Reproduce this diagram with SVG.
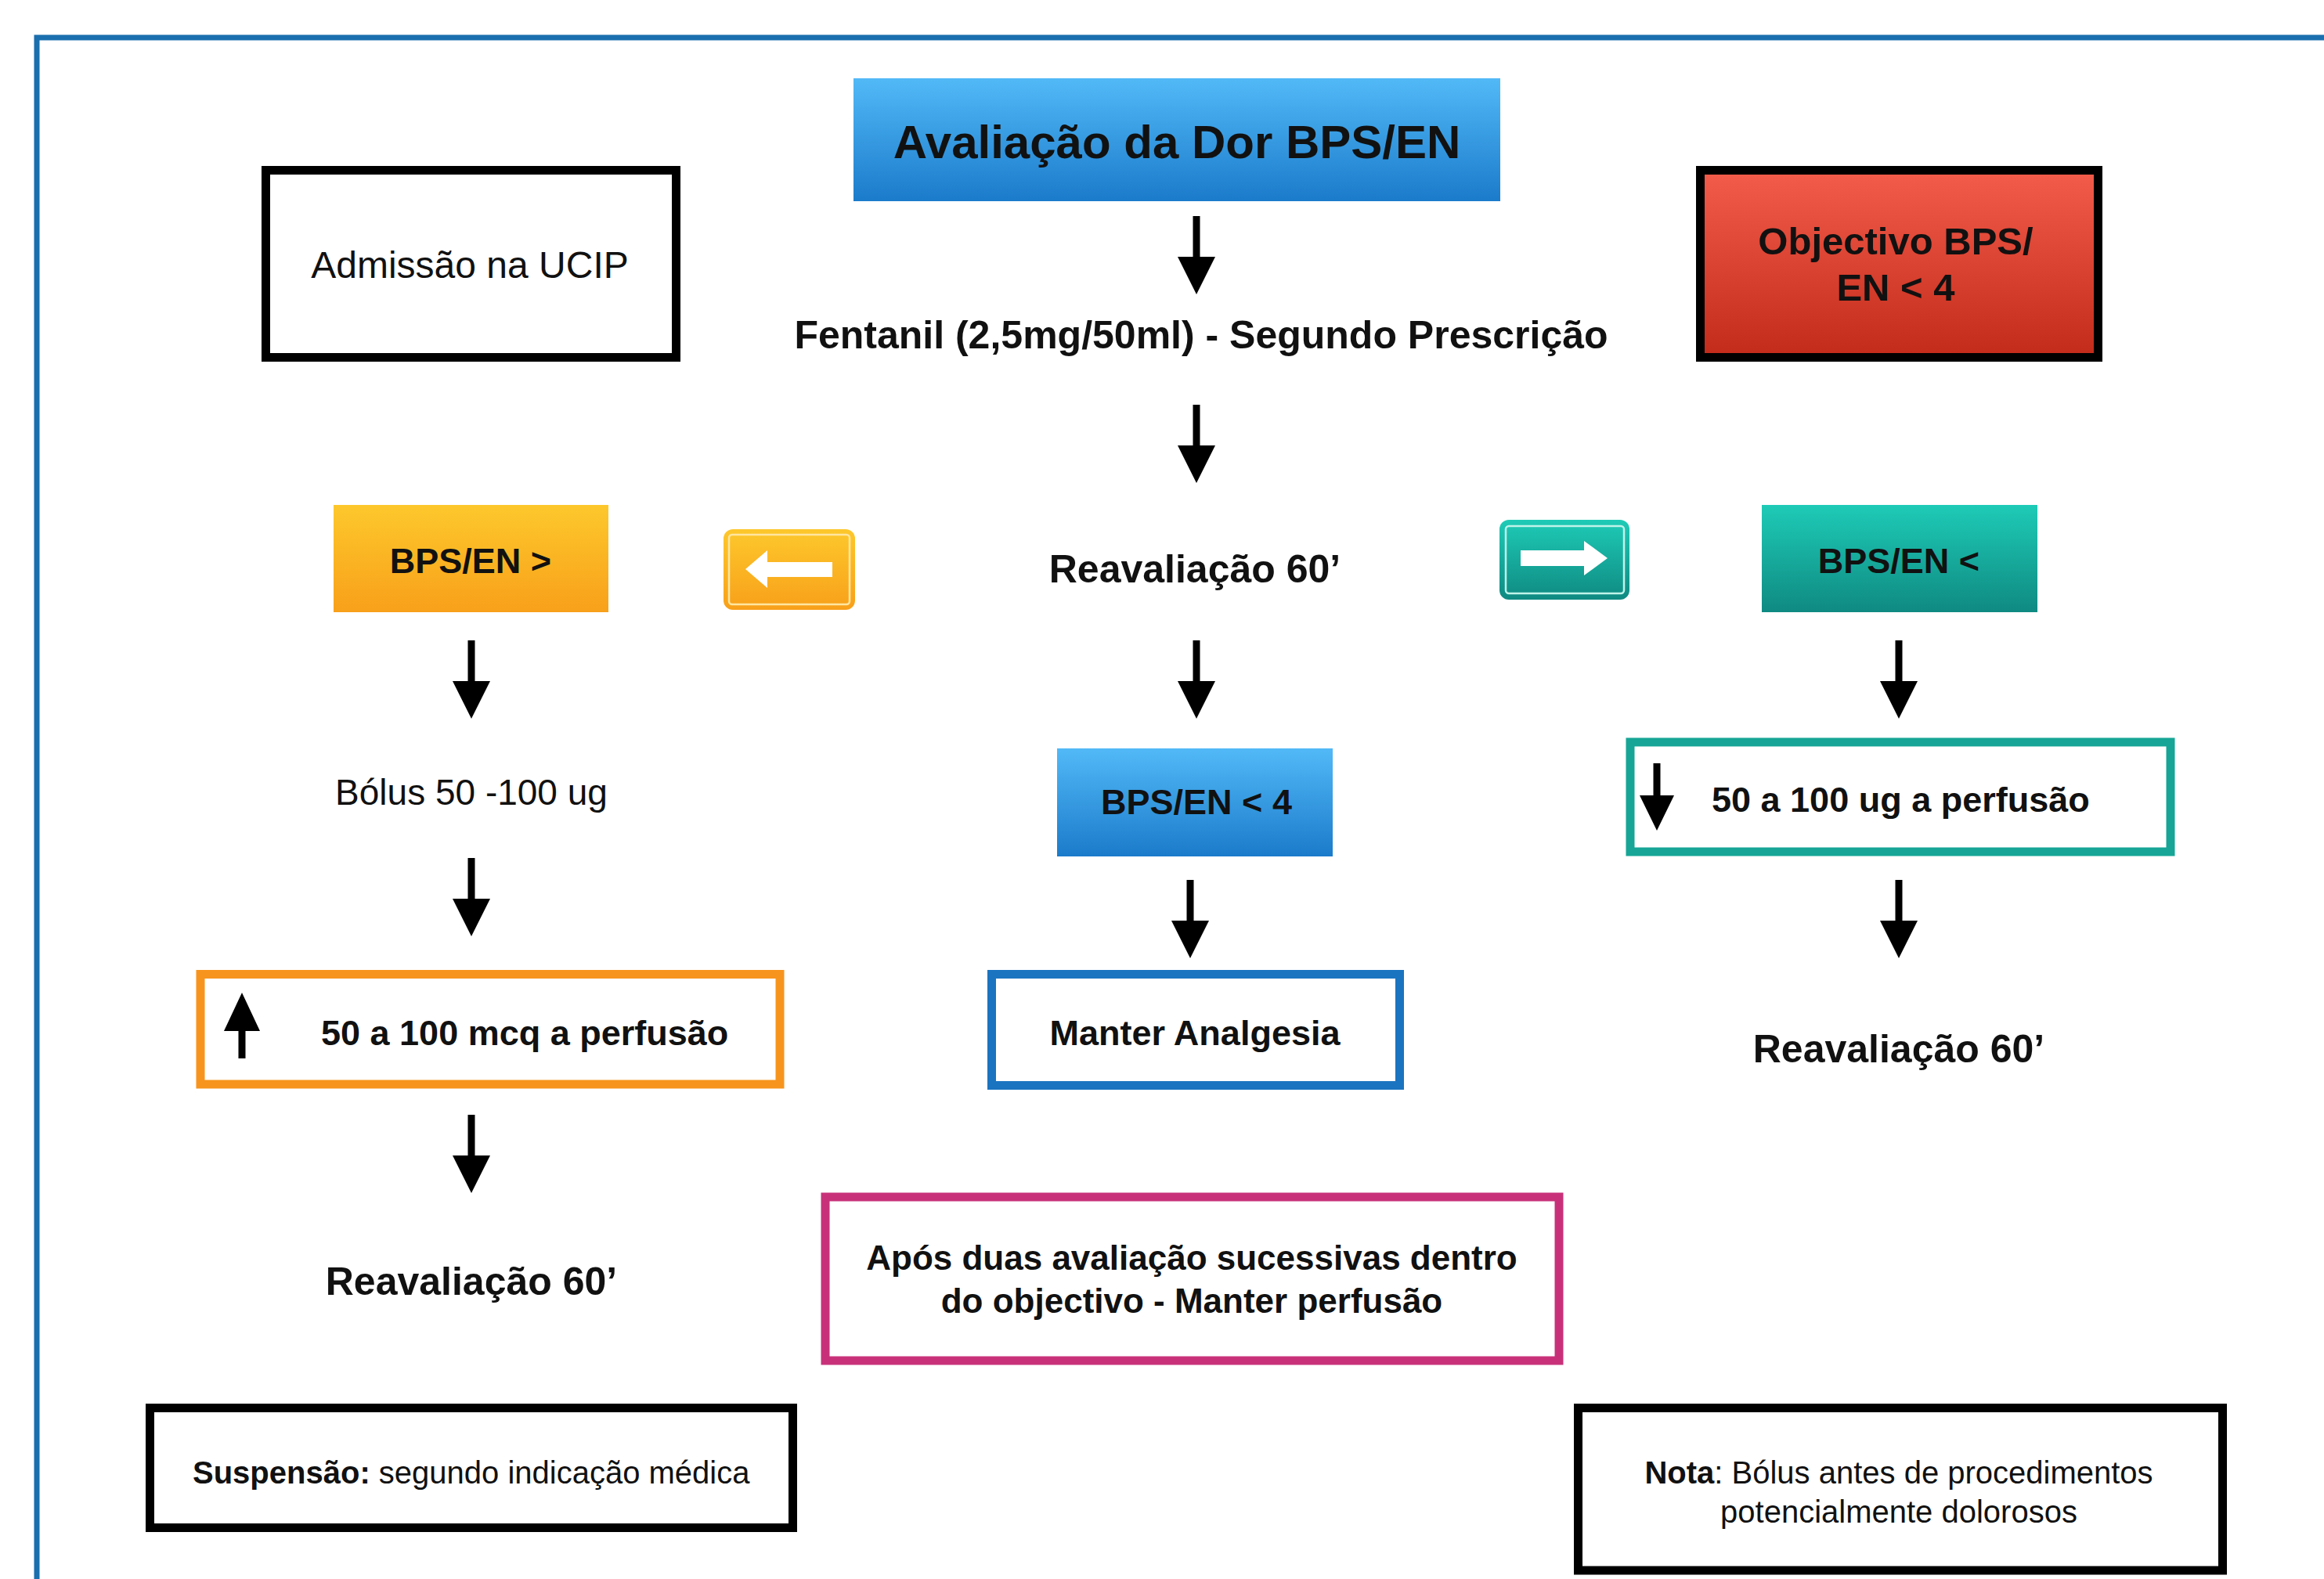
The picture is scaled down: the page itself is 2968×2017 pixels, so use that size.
<svg xmlns="http://www.w3.org/2000/svg" width="2968" height="2017" viewBox="0 0 2968 2017">
<defs>
<linearGradient id="gBlue" x1="0" y1="0" x2="0" y2="1"><stop offset="0" stop-color="#52b9f7"/><stop offset="1" stop-color="#1b7bcb"/></linearGradient>
<linearGradient id="gRed" x1="0" y1="0" x2="0" y2="1"><stop offset="0" stop-color="#f35b4a"/><stop offset="1" stop-color="#c22a19"/></linearGradient>
<linearGradient id="gOrange" x1="0" y1="0" x2="0" y2="1"><stop offset="0" stop-color="#fdc82c"/><stop offset="1" stop-color="#f8a01a"/></linearGradient>
<linearGradient id="gTeal" x1="0" y1="0" x2="0" y2="1"><stop offset="0" stop-color="#1ecbb6"/><stop offset="1" stop-color="#0f8a82"/></linearGradient>
<path id="dn" d="M-4.5,0 H4.5 V52 H24 L0,100 L-24,52 H-4.5 Z" fill="#000"/>
</defs>
<style>
text{font-family:"Liberation Sans",Arial,Helvetica,sans-serif;fill:#111;}
.b{font-weight:bold;}
.c{text-anchor:middle;}
.box{fill:#fff;stroke-width:11;}
</style>
<rect x="0" y="0" width="2968" height="2017" fill="#fff"/>
<rect x="47" y="48" width="3000" height="2100" fill="none" stroke="#1a6fae" stroke-width="7"/>

<g id="avaliacao">
<rect x="1090" y="100" width="826" height="157" fill="url(#gBlue)"/>
<text class="b c" x="1503" y="202" font-size="60">Avaliação da Dor BPS/EN</text>
</g>

<g id="admissao">
<rect class="box" x="339.5" y="217.5" width="524" height="239" stroke="#000"/>
<text class="c" x="600" y="355" font-size="48">Admissão na UCIP</text>
</g>

<g id="objectivo">
<rect x="2171.5" y="217.5" width="508" height="239" fill="url(#gRed)" stroke="#000" stroke-width="11"/>
<text class="b c" x="2421" y="325" font-size="49">Objectivo BPS/</text>
<text class="b c" x="2421" y="384" font-size="49">EN &lt; 4</text>
</g>

<g id="fentanil">
<text class="b c" x="1534" y="445" font-size="50">Fentanil (2,5mg/50ml) - Segundo Prescrição</text>
</g>

<g id="reavaliacao-centro">
<text class="b c" x="1526" y="744" font-size="50">Reavaliação 60’</text>
</g>

<g id="bps-maior">
<rect x="426" y="645" width="351" height="137" fill="url(#gOrange)"/>
<text class="b c" x="601" y="732" font-size="45">BPS/EN &gt;</text>
</g>

<g id="seta-esquerda">
<rect x="924" y="676" width="168" height="103" rx="12" fill="url(#gOrange)"/>
<rect x="931" y="683" width="154" height="89" rx="4" fill="none" stroke="#ffe6a0" stroke-width="2.5"/>
<path d="M952,727 L980,703 V718 H1063 V737 H980 V751 Z" fill="#fff"/>
</g>

<g id="seta-direita">
<rect x="1915" y="664" width="166" height="102" rx="12" fill="url(#gTeal)"/>
<rect x="1923" y="672" width="151" height="86" rx="4" fill="none" stroke="#bff3ea" stroke-width="2.5"/>
<path d="M2053,713 L2023,691 V703 H1942 V723 H2023 V735 Z" fill="#fff"/>
</g>

<g id="bps-menor">
<rect x="2250" y="645" width="352" height="137" fill="url(#gTeal)"/>
<text class="b c" x="2425" y="732" font-size="45">BPS/EN &lt;</text>
</g>

<g id="bolus">
<text class="c" x="602" y="1028" font-size="46">Bólus 50 -100 ug</text>
</g>

<g id="bps-menor-4">
<rect x="1350" y="956" width="352" height="138" fill="url(#gBlue)"/>
<text class="b c" x="1528" y="1040" font-size="45">BPS/EN &lt; 4</text>
</g>

<g id="reduzir-perfusao">
<rect class="box" x="2082" y="948" width="690" height="140" stroke="#16a596" stroke-width="10.5"/>
<path d="M2111.5,975 V1016 H2094 L2116,1061 L2138,1016 H2120.5 V975 Z" fill="#000"/>
<text class="b" x="2186" y="1037" font-size="45">50 a 100 ug a perfusão</text>
</g>

<g id="aumentar-perfusao">
<rect class="box" x="256" y="1244.5" width="740" height="140.5" stroke="#f7941d" stroke-width="10.5"/>
<path d="M304.5,1352 V1317 H286 L309,1268 L332,1317 H313.5 V1352 Z" fill="#000"/>
<text class="b" x="410" y="1335" font-size="45">50 a 100 mcq a perfusão</text>
</g>

<g id="manter-analgesia">
<rect class="box" x="1266.5" y="1244.5" width="521" height="142" stroke="#1b74c0"/>
<text class="b c" x="1526" y="1335" font-size="45">Manter Analgesia</text>
</g>

<g id="reavaliacao-direita">
<text class="b c" x="2425" y="1357" font-size="50">Reavaliação 60’</text>
</g>

<g id="reavaliacao-esquerda">
<text class="b c" x="602" y="1654" font-size="50">Reavaliação 60’</text>
</g>

<g id="manter-perfusao">
<rect class="box" x="1054" y="1529" width="937" height="209" stroke="#c8317a"/>
<text class="b c" x="1522" y="1622" font-size="44">Após duas avaliação sucessivas dentro</text>
<text class="b c" x="1522" y="1677" font-size="44">do objectivo - Manter perfusão</text>
</g>

<g id="suspensao">
<rect class="box" x="191.5" y="1798.5" width="821" height="153" stroke="#000"/>
<text x="246" y="1895" font-size="40"><tspan class="b">Suspensão:</tspan> segundo indicação médica</text>
</g>

<g id="nota">
<rect class="box" x="2015.5" y="1798.5" width="823" height="207.5" stroke="#000"/>
<text class="c" x="2425" y="1895" font-size="40"><tspan class="b">Nota</tspan>: Bólus antes de procedimentos</text>
<text class="c" x="2425" y="1945" font-size="40">potencialmente dolorosos</text>
</g>

<g id="connectors">
<use href="#dn" x="1528" y="276"/>
<use href="#dn" x="1528" y="517"/>
<use href="#dn" x="1528" y="818"/>
<use href="#dn" x="1520" y="1124"/>
<use href="#dn" x="602" y="818"/>
<use href="#dn" x="602" y="1096"/>
<use href="#dn" x="602" y="1424"/>
<use href="#dn" x="2425" y="818"/>
<use href="#dn" x="2425" y="1124"/>
</g>
</svg>
